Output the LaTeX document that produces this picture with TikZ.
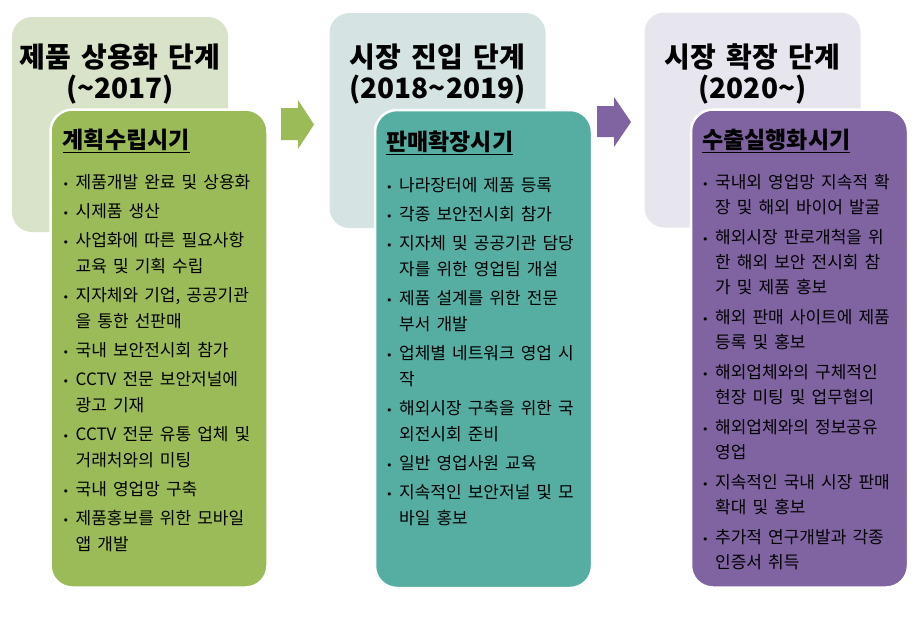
\documentclass[tikz,border=0pt]{standalone}
\usepackage{fontspec}
\setmainfont[WordSpace=1.6]{Noto Sans CJK KR}
\newfontfamily\bulfont{DejaVu Sans}
\usetikzlibrary{positioning}
\definecolor{backone}{HTML}{D8E3C9}
\definecolor{backtwo}{HTML}{D5E3E3}
\definecolor{backthree}{HTML}{E7E5EE}
\definecolor{stageone}{HTML}{9BBB59}
\definecolor{stagetwo}{HTML}{56AEA2}
\definecolor{stagethree}{HTML}{8064A2}
\tikzset{
    backbox/.style={
           rectangle, rounded corners=20pt,
           minimum width=216pt, minimum height=215pt,
           inner sep=0pt, outer sep=0pt,
           },
}
\tikzset{
    frontbox/.style={
           rectangle, rounded corners=22pt,
           draw=white, line width=2.5pt,
           minimum width=217pt, minimum height=478pt,
           inner sep=0pt, outer sep=0pt,
           },
}
\tikzset{
    stagetitle/.style={
           align=center,
           font=\bfseries\fontsize{28}{31}\selectfont,
           },
    periodtitle/.style={
           inner sep=0pt,
           font=\bfseries\fontsize{23}{26}\selectfont,
           },
    itemlist/.style={
           align=left, inner sep=0pt,
           font=\fontsize{17}{26}\selectfont,
           },
}
\newcommand{\bul}{\makebox[13pt][l]{\bulfont\fontsize{11}{11}\selectfont •}}
\newcommand{\ind}{\hspace*{13pt}}

\begin{document}
\begin{tikzpicture}[x=1pt,y=-1pt]
\useasboundingbox (0,0) rectangle (918,625);
% stage boxes
\node[backbox,fill=backone](back1) at (120,124.5){};
\node[backbox,fill=backtwo](back2) at (437.5,120.5){};
\node[backbox,fill=backthree](back3) at (752.5,120){};
\node[stagetitle](title1) at (120,74){제품 상용화 단계\\(\textasciitilde2017)};
\node[stagetitle](title2) at (437.5,74){시장 진입 단계\\(2018\textasciitilde2019)};
\node[stagetitle](title3) at (752.5,74){시장 확장 단계\\(2020\textasciitilde)};
% arrows
\fill[stageone] (281,108) -- (298,108) -- (298,100) -- (314,124.5) -- (298,149) -- (298,140) -- (281,140) -- cycle;
\fill[stagethree] (597,106) -- (614,106) -- (614,97) -- (631,122) -- (614,147) -- (614,137) -- (597,137) -- cycle;
% period boxes
\node[frontbox,fill=stageone](front1) at (159,348.5){};
\node[frontbox,fill=stagetwo](front2) at (483.5,349){};
\node[frontbox,fill=stagethree](front3) at (799.5,348.5){};
\node[periodtitle,below right=19pt and 12pt of front1.north west](period1){\underline{계획수립시기}};
\node[periodtitle,below right=21pt and 11pt of front2.north west](period2){\underline{판매확장시기}};
\node[periodtitle,below right=19pt and 11pt of front3.north west](period3){\underline{수출실행화시기}};
% items
\node[itemlist,below right=22pt and 0pt of period1.south west](list1){%
\bul 제품개발 완료 및 상용화\\[3pt]
\bul 시제품 생산\\[3pt]
\bul 사업화에 따른 필요사항\\
\ind 교육 및 기획 수립\\[3pt]
\bul 지자체와 기업, 공공기관\\
\ind 을 통한 선판매\\[3pt]
\bul 국내 보안전시회 참가\\[3pt]
\bul CCTV 전문 보안저널에\\
\ind 광고 기재\\[3pt]
\bul CCTV 전문 유통 업체 및\\
\ind 거래처와의 미팅\\[3pt]
\bul 국내 영업망 구축\\[3pt]
\bul 제품홍보를 위한 모바일\\
\ind 앱 개발};
\node[itemlist,below right=22pt and 0pt of period2.south west](list2){%
\bul 나라장터에 제품 등록\\[3pt]
\bul 각종 보안전시회 참가\\[3pt]
\bul 지자체 및 공공기관 담당\\
\ind 자를 위한 영업팀 개설\\[3pt]
\bul 제품 설계를 위한 전문\\
\ind 부서 개발\\[3pt]
\bul 업체별 네트워크 영업 시\\
\ind 작\\[3pt]
\bul 해외시장 구축을 위한 국\\
\ind 외전시회 준비\\[3pt]
\bul 일반 영업사원 교육\\[3pt]
\bul 지속적인 보안저널 및 모\\
\ind 바일 홍보};
\node[itemlist,font=\fontsize{17}{25}\selectfont,below right=22pt and 0pt of period3.south west](list3){%
\bul 국내외 영업망 지속적 확\\
\ind 장 및 해외 바이어 발굴\\[5pt]
\bul 해외시장 판로개척을 위\\
\ind 한 해외 보안 전시회 참\\
\ind 가 및 제품 홍보\\[5pt]
\bul 해외 판매 사이트에 제품\\
\ind 등록 및 홍보\\[5pt]
\bul 해외업체와의 구체적인\\
\ind 현장 미팅 및 업무협의\\[5pt]
\bul 해외업체와의 정보공유\\
\ind 영업\\[5pt]
\bul 지속적인 국내 시장 판매\\
\ind 확대 및 홍보\\[5pt]
\bul 추가적 연구개발과 각종\\
\ind 인증서 취득};
\end{tikzpicture}
\end{document}
